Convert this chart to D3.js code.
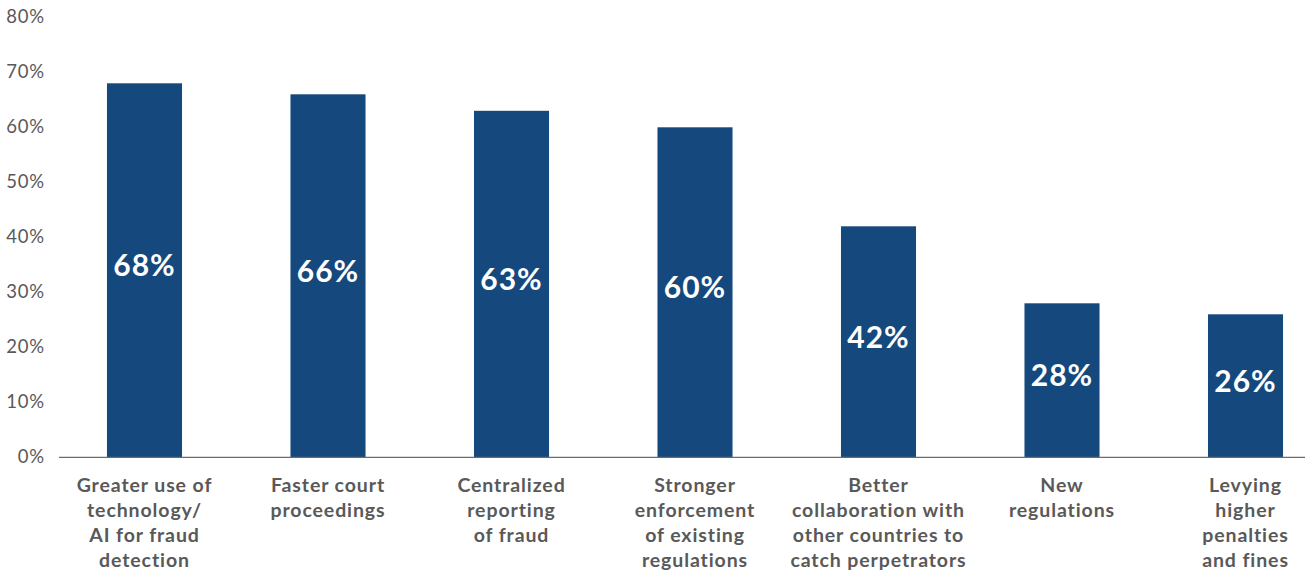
<!DOCTYPE html>
<html>
<head>
<meta charset="utf-8">
<script src="https://cdn.jsdelivr.net/npm/d3@7"></script>
<style>
  html, body { margin: 0; padding: 0; background: #fff; }
  svg { display: block; }
</style>
</head>
<body>
<svg id="chart" width="1305" height="572"></svg>
<script>
// Measures cited as most effective against fraud (share of respondents)
const categories = [
  ["Greater use of", "technology/", "AI for fraud", "detection"],
  ["Faster court", "proceedings"],
  ["Centralized", "reporting", "of fraud"],
  ["Stronger", "enforcement", "of existing", "regulations"],
  ["Better", "collaboration with", "other countries to", "catch perpetrators"],
  ["New", "regulations"],
  ["Levying", "higher", "penalties", "and fines"]
];
const values = [0.68, 0.66, 0.63, 0.60, 0.42, 0.28, 0.26];
const yTicks = [0, 0.1, 0.2, 0.3, 0.4, 0.5, 0.6, 0.7, 0.8];

const width = 1305, height = 572;
const barColor = "#15497d";
const textColor = "#595959";
const font = "Lato, 'Open Sans', sans-serif";

const svg = d3.select("#chart");

const idx = d3.range(categories.length);

const x = d3.scaleBand()
  .domain(idx)
  .range([52.75, 1337.25])
  .paddingInner(0.591)
  .paddingOuter(0.2955);

const y = d3.scaleLinear()
  .domain([0, 0.8])
  .range([457.3, 17.3]);

const pct = d3.format(".0%");

// Y axis: tick labels only
const yAxis = d3.axisLeft(y)
  .tickValues(yTicks)
  .tickFormat(pct)
  .tickSize(0)
  .tickPadding(0);

const yg = svg.append("g")
  .attr("transform", "translate(45,-1)")
  .call(yAxis);
yg.select(".domain").remove();
yg.selectAll("text")
  .attr("fill", textColor)
  .attr("font-family", font)
  .attr("font-size", 18.5)
  .attr("font-weight", 400)
  .attr("letter-spacing", 0.8);

// Bars
svg.append("g")
  .selectAll("rect")
  .data(values)
  .join("rect")
  .attr("x", (d, i) => x(i))
  .attr("y", d => y(d))
  .attr("width", x.bandwidth())
  .attr("height", d => y(0) - y(d))
  .attr("fill", barColor);

// Baseline
svg.append("line")
  .attr("x1", 59)
  .attr("x2", width)
  .attr("y1", y(0))
  .attr("y2", y(0))
  .attr("stroke", "#6b6b6b")
  .attr("stroke-width", 1.3);

// Value labels inside bars
svg.append("g")
  .selectAll("text")
  .data(values)
  .join("text")
  .attr("x", (d, i) => x(i) + x.bandwidth() / 2)
  .attr("y", d => (y(d) + y(0)) / 2 - 6)
  .attr("text-anchor", "middle")
  .attr("dominant-baseline", "central")
  .attr("fill", "#ffffff")
  .attr("font-family", font)
  .attr("font-size", 30)
  .attr("font-weight", 700)
  .attr("letter-spacing", 1)
  .text(d => pct(d));

// Category labels
const xg = svg.append("g");
xg.selectAll("text")
  .data(categories)
  .join("text")
  .attr("x", (d, i) => x(i) + x.bandwidth() / 2)
  .attr("y", 492)
  .attr("text-anchor", "middle")
  .attr("fill", textColor)
  .attr("font-family", font)
  .attr("font-size", 19.5)
  .attr("font-weight", 700)
  .attr("letter-spacing", 0.9)
  .each(function (lines, i) {
    d3.select(this).selectAll("tspan")
      .data(lines)
      .join("tspan")
      .attr("x", x(i) + x.bandwidth() / 2)
      .attr("dy", (l, j) => j === 0 ? 0 : 25)
      .text(l => l);
  });
</script>
</body>
</html>
